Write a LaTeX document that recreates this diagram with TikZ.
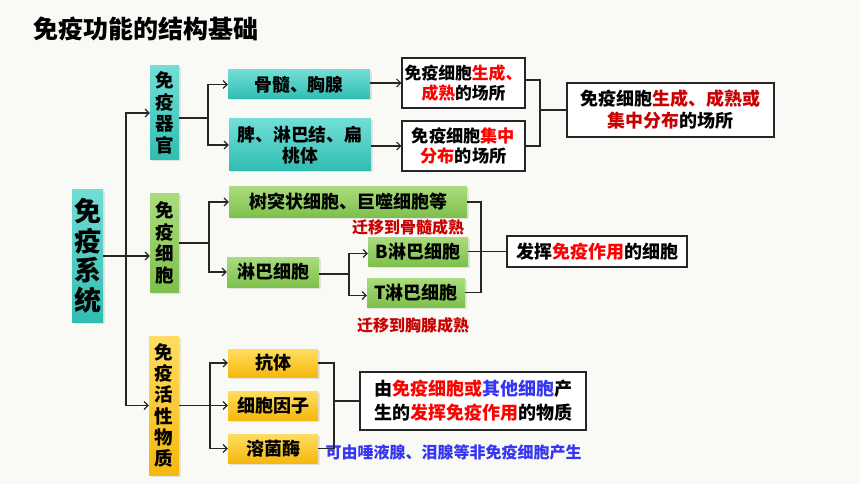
\documentclass[tikz,border=0pt]{standalone}
\usepackage{fontspec}
\setmainfont{Noto Sans CJK SC}
\usetikzlibrary{arrows.meta,shadows}
\definecolor{bgc}{HTML}{F9F9F6}
\definecolor{tealA}{HTML}{72DED6}
\definecolor{tealB}{HTML}{30BDB2}
\definecolor{grnA}{HTML}{AADC7E}
\definecolor{grnB}{HTML}{7EC04C}
\definecolor{ylwA}{HTML}{FFDD62}
\definecolor{ylwB}{HTML}{F5B80C}
\definecolor{myred}{HTML}{FF0000}
\definecolor{dred}{HTML}{C80000}
\definecolor{myblue}{HTML}{3535F2}
\definecolor{lineclr}{HTML}{262626}
\tikzset{
  base/.style={inner sep=0pt, align=center, font=\bfseries, text=black},
  shad/.style={drop shadow={opacity=0.18, shadow xshift=1.5pt, shadow yshift=-1.5pt}},
  tealbox/.style={base, shad, top color=tealA, bottom color=tealB},
  grnbox/.style={base, shad, top color=grnA, bottom color=grnB},
  ylwbox/.style={base, shad, top color=ylwA, bottom color=ylwB},
  wbox/.style={base, draw=lineclr, line width=1.3pt, fill=white},
  conn/.style={draw=lineclr, line width=1.1pt},
  arr/.style={conn, -{Straight Barb[length=4pt,width=8pt]}},
  note/.style={inner sep=0pt, font=\bfseries\fontsize{16}{16}\selectfont}
}
\begin{document}
\begin{tikzpicture}[x=1pt,y=-1pt]
\fill[bgc] (0,0) rectangle (860,484);
\useasboundingbox (0,0) rectangle (860,484);

% title
\node[inner sep=0pt, anchor=west, font=\bfseries\fontsize{25}{25}\selectfont] (title) at (33,29) {免疫功能的结构基础};

% level 1
\node[tealbox, minimum width=31pt, minimum height=132pt, font=\bfseries\fontsize{27}{29.5}\selectfont] (sys) at (87.5,256) {免\\疫\\系\\统};

% level 2
\node[tealbox, minimum width=29pt, minimum height=94pt, font=\bfseries\fontsize{18.5}{21.7}\selectfont] (org) at (164.5,113) {免\\疫\\器\\官};
\node[grnbox, minimum width=29pt, minimum height=98pt, font=\bfseries\fontsize{18.5}{21.7}\selectfont] (cell) at (164.5,243) {免\\疫\\细\\胞};
\node[ylwbox, minimum width=30pt, minimum height=139pt, font=\bfseries\fontsize{18.5}{21.3}\selectfont] (act) at (164,405.5) {免\\疫\\活\\性\\物\\质};

% organs
\node[tealbox, minimum width=142pt, minimum height=29pt, font=\bfseries\fontsize{17.8}{20}\selectfont] (gs) at (299,84.5) {骨髓、胸腺};
\node[tealbox, minimum width=142pt, minimum height=52pt, font=\bfseries\fontsize{17.8}{20.5}\selectfont] (pl) at (300,145) {脾、淋巴结、扁\\桃体};
\node[wbox, minimum width=123pt, minimum height=50pt, font=\bfseries\fontsize{16.8}{20.5}\selectfont] (b1) at (463.5,83) {免疫细胞\textcolor{myred}{生成、}\\\textcolor{myred}{成熟}的场所};
\node[wbox, minimum width=123pt, minimum height=50pt, font=\bfseries\fontsize{17.2}{20.5}\selectfont] (b2) at (463.5,146) {免疫细胞\textcolor{myred}{集中}\\\textcolor{myred}{分布}的场所};
\node[wbox, minimum width=207pt, minimum height=54pt, font=\bfseries\fontsize{18}{22}\selectfont] (big1) at (670.5,110) {免疫细胞\textcolor{dred}{生成、成熟或}\\\textcolor{dred}{集中分布}的场所};

% cells
\node[grnbox, minimum width=238pt, minimum height=30pt, font=\bfseries\fontsize{18}{20}\selectfont] (sh) at (348,202) {树突状细胞、巨噬细胞等};
\node[grnbox, minimum width=92pt, minimum height=30pt, font=\bfseries\fontsize{18}{20}\selectfont] (lb) at (273,272) {淋巴细胞};
\node[grnbox, minimum width=100pt, minimum height=29pt, font=\bfseries\fontsize{18}{20}\selectfont] (B) at (418,251.5) {B淋巴细胞};
\node[grnbox, minimum width=98pt, minimum height=29pt, font=\bfseries\fontsize{18}{20}\selectfont] (T) at (416,292.5) {T淋巴细胞};
\node[wbox, minimum width=180pt, minimum height=31pt, font=\bfseries\fontsize{18}{20}\selectfont] (fh) at (597,251.5) {发挥\textcolor{myred}{免疫作用}的细胞};
\node[note, text=dred] (n1) at (408,227) {迁移到骨髓成熟};
\node[note, text=dred] (n2) at (413,325) {迁移到胸腺成熟};

% active substances
\node[ylwbox, minimum width=90pt, minimum height=28pt, font=\bfseries\fontsize{18}{20}\selectfont] (kt) at (273,363) {抗体};
\node[ylwbox, minimum width=90pt, minimum height=29pt, font=\bfseries\fontsize{18}{20}\selectfont] (xb) at (273,405.5) {细胞因子};
\node[ylwbox, minimum width=90pt, minimum height=29pt, font=\bfseries\fontsize{18}{20}\selectfont] (rj) at (273,448.5) {溶菌酶};
\node[wbox, minimum width=226pt, minimum height=58pt, font=\bfseries\fontsize{18}{24}\selectfont] (big2) at (473,401) {由\textcolor{myred}{免疫细胞或}\textcolor{myblue}{其他细胞}产\\生的\textcolor{myred}{发挥免疫作用}的物质};
\node[note, text=myblue] (n3) at (453.5,452) {可由唾液腺、泪腺等非免疫细胞产生};

% junction coordinates
\coordinate (j0) at (126,256);
\coordinate (j1) at (208,118);
\coordinate (j2) at (540,110);
\coordinate (j3) at (209,243);
\coordinate (j4) at (349,274);
\coordinate (j5) at (481,251.5);
\coordinate (j6) at (210,405.5);
\coordinate (j7) at (334,401);

% trunk
\draw[arr] (sys.east |- j0) -- (cell.west |- j0);
\draw[arr] (j0) |- (org.west);
\draw[arr] (j0) |- (act.west);

% organs
\draw[conn] (org.east |- j1) -- (j1);
\draw[arr] (j1) |- (gs.west);
\draw[arr] (j1) |- (pl.west);
\draw[arr] (gs.east |- b1.west) -- (b1.west);
\draw[arr] (pl.east |- b2.west) -- (b2.west);
\draw[conn] ([yshift=3pt]b1.east) -| (j2);
\draw[conn] (b2.east) -| (j2);
\draw[conn] (j2) -- (big1.west);

% cells
\draw[conn] (cell.east) -- (j3);
\draw[arr] (j3) |- (sh.west);
\draw[arr] (j3) |- (lb.west);
\draw[conn] (lb.east |- j4) -- (j4);
\draw[arr] (j4) |- ([yshift=-2pt]B.west);
\draw[arr] (j4) |- ([yshift=-3pt]T.west);
\draw[conn] (sh.east) -| (j5);
\draw[conn] (T.east) -| (j5);
\draw[conn] (B.east) -- (fh.west);

% active substances
\draw[arr] (act.east |- j6) -- (xb.west);
\draw[arr] (j6) |- (kt.west);
\draw[arr] (j6) |- (rj.west);
\draw[conn] (kt.east) -| (j7);
\draw[conn] (rj.east) -| (j7);
\draw[conn] (j7) -- (big2.west);
\end{tikzpicture}
\end{document}
